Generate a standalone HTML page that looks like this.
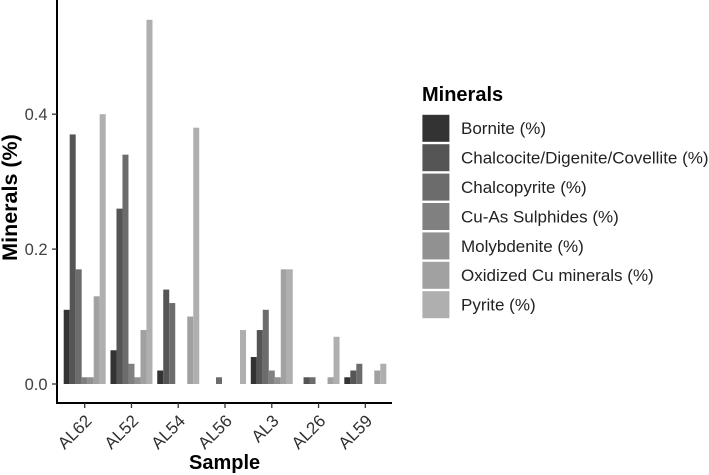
<!DOCTYPE html>
<html lang="en">
<head>
<meta charset="utf-8">
<title>Minerals by sample</title>
<style>
html,body{margin:0;padding:0;background:#fff;}
body{width:709px;height:475px;overflow:hidden;}
svg{display:block;font-family:"Liberation Sans",Arial,sans-serif;}
</style>
</head>
<body>
<svg id="chart" width="709" height="475" viewBox="0 0 709 475" xmlns="http://www.w3.org/2000/svg">
<rect x="0" y="0" width="709" height="475" fill="#ffffff"/>
<g id="bars"></g>
<g id="axes"></g>
<g id="legend"></g>
<text x="224.6" y="469" font-size="20" font-weight="bold" text-anchor="middle" fill="#000">Sample</text>
<text transform="translate(17,197.5) rotate(-90)" font-size="21.5" font-weight="bold" text-anchor="middle" fill="#000">Minerals (%)</text>
</svg>
<script>
const categories = ['AL62', 'AL52', 'AL54', 'AL56', 'AL3', 'AL26', 'AL59'];
const seriesNames = ['Bornite (%)', 'Chalcocite/Digenite/Covellite (%)', 'Chalcopyrite (%)', 'Cu-As Sulphides (%)', 'Molybdenite (%)', 'Oxidized Cu minerals (%)', 'Pyrite (%)'];
const seriesColors = ['#333333', '#555555', '#6c6c6c', '#808080', '#919191', '#a1a1a1', '#afafaf'];
const bornite = [0.11, 0.05, 0.02, 0, 0.04, 0, 0.01];
const chalcocite = [0.37, 0.26, 0.14, 0, 0.08, 0.01, 0.02];
const chalcopyrite = [0.17, 0.34, 0.12, 0.01, 0.11, 0.01, 0.03];
const cuAsSulphides = [0.01, 0.03, 0, 0, 0.02, 0, 0];
const molybdenite = [0.01, 0.01, 0, 0, 0.01, 0, 0];
const oxidizedCu = [0.13, 0.08, 0.10, 0, 0.17, 0.01, 0.02];
const pyrite = [0.40, 0.54, 0.38, 0.08, 0.17, 0.07, 0.03];
const yTicks = [0, 0.2, 0.4];
const allSeries = [bornite, chalcocite, chalcopyrite, cuAsSulphides, molybdenite, oxidizedCu, pyrite];

const NS = 'http://www.w3.org/2000/svg';
const panelLeft = 57, panelRight = 392, panelBottom = 403, panelTop = 0;
const firstCenter = 84.7, bandStep = 46.77, groupWidth = 42;
const zeroY = 384, pxPerUnit = 674.5;
function xCenter(i) { return firstCenter + i * bandStep; }
function yScale(v) { return zeroY - v * pxPerUnit; }
function make(tag, attrs, parent) {
  const el = document.createElementNS(NS, tag);
  for (const k in attrs) el.setAttribute(k, attrs[k]);
  parent.appendChild(el);
  return el;
}
const barsG = document.getElementById('bars');
const barW = groupWidth / allSeries.length;
allSeries.forEach(function (vals, s) {
  vals.forEach(function (v, c) {
    if (v <= 0) return;
    const r = make('rect', { x: xCenter(c) - groupWidth / 2 + s * barW, y: yScale(v), width: barW, height: yScale(0) - yScale(v), fill: seriesColors[s] }, barsG);
    
    
  });
});
const axesG = document.getElementById('axes');
const yLine = make('line', { x1: panelLeft, x2: panelLeft, y1: panelTop, y2: panelBottom + 1, stroke: '#000', 'stroke-width': 2 }, axesG);


const xLine = make('line', { x1: panelLeft, x2: panelRight, y1: panelBottom, y2: panelBottom, stroke: '#000', 'stroke-width': 2 }, axesG);


yTicks.forEach(function (t) {
  const y = yScale(t);
  const m = make('line', { x1: panelLeft - 5, x2: panelLeft, y1: y, y2: y, stroke: '#333', 'stroke-width': 1.3 }, axesG);
  
  
  const l = make('text', { x: 47.5, y: y + 5.9, 'font-size': 16.5, 'text-anchor': 'end', fill: '#404040' }, axesG);
  
  
  l.textContent = t.toFixed(1);
});
categories.forEach(function (c, i) {
  const x = xCenter(i);
  const m = make('line', { x1: x, x2: x, y1: panelBottom, y2: panelBottom + 5, stroke: '#333', 'stroke-width': 1.3 }, axesG);
  
  
  const l = make('text', { transform: 'translate(' + (x + 8) + ',' + (panelBottom + 19) + ') rotate(-45)', 'font-size': 17, 'text-anchor': 'end', fill: '#303030' }, axesG);
  
  
  l.textContent = c;
});
const legendG = document.getElementById('legend');
const lt = make('text', { x: 422, y: 101, 'font-size': 20, 'font-weight': 'bold', fill: '#000' }, legendG);


lt.textContent = 'Minerals';
seriesNames.forEach(function (n, i) {
  const y = 114.8 + i * 29.4;
  const k = make('rect', { x: 422.4, y: y, width: 27, height: 27, fill: seriesColors[i] }, legendG);
  
  
  const t = make('text', { x: 461, y: y + 19.4, 'font-size': 17, fill: '#222' }, legendG);
  
  
  t.textContent = n;
});
</script>
</body>
</html>
